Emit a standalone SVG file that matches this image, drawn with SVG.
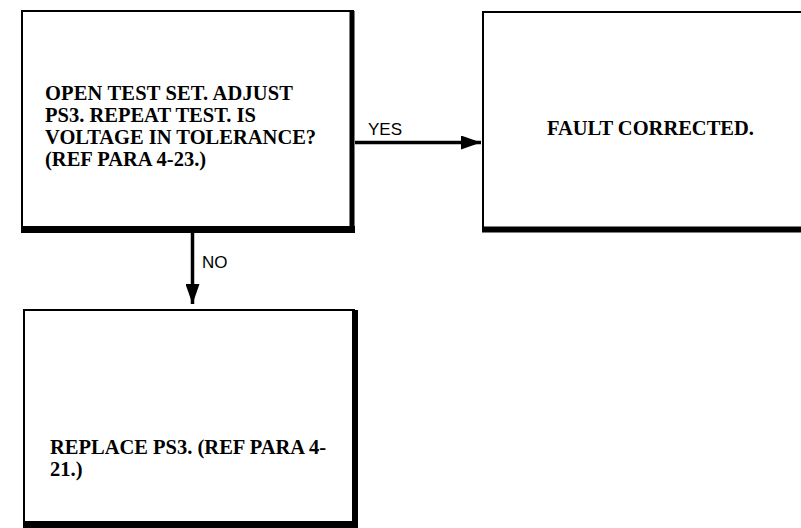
<svg xmlns="http://www.w3.org/2000/svg" width="801" height="528" viewBox="0 0 801 528">
<defs>
<style>
.box{fill:#fff;stroke:#000;stroke-width:2}
.sh{stroke:#000;fill:none}
.t{font-family:"Liberation Serif","Times New Roman",serif;font-weight:bold;font-size:20.5px;fill:#000}
.l{font-family:"Liberation Sans",Arial,sans-serif;font-size:17px;fill:#000}
.c{stroke:#000;stroke-width:3.5;fill:none}
</style>
<marker id="ah" markerWidth="20" markerHeight="14" refX="20" refY="7" orient="auto" markerUnits="userSpaceOnUse">
<path d="M0,0 L20,7 L0,14 Z" fill="#000"/>
</marker>
</defs>
<rect width="801" height="528" fill="#fff"/>
<g id="node-test">
<rect class="box" x="22" y="11" width="331" height="217"/>
<line class="sh" x1="352" y1="11" x2="352" y2="233" stroke-width="5"/>
<line class="sh" x1="21" y1="229.5" x2="355" y2="229.5" stroke-width="7"/>
<text class="t"><tspan x="45" y="100" textLength="248" lengthAdjust="spacing">OPEN TEST SET. ADJUST</tspan><tspan x="45" y="122">PS3. REPEAT TEST. IS</tspan><tspan x="45" y="144">VOLTAGE IN TOLERANCE?</tspan><tspan x="45" y="166">(REF PARA 4-23.)</tspan></text>
</g>
<g id="node-fault">
<rect class="box" x="483" y="12" width="330" height="216"/>
<line class="sh" x1="482" y1="229.5" x2="801" y2="229.5" stroke-width="6"/>
<text class="t" x="547" y="135">FAULT CORRECTED.</text>
</g>
<g id="node-replace">
<rect class="box" x="24" y="310" width="330" height="212"/>
<line class="sh" x1="355" y1="310" x2="355" y2="528" stroke-width="6"/>
<line class="sh" x1="23" y1="524.5" x2="358" y2="524.5" stroke-width="7"/>
<text class="t"><tspan x="50" y="454">REPLACE PS3. (REF PARA 4-</tspan><tspan x="50" y="476">21.)</tspan></text>
</g>
<g id="connectors">
<line class="c" x1="355" y1="142.5" x2="481" y2="142.5" marker-end="url(#ah)"/>
<text class="l" x="368" y="135">YES</text>
<line class="c" x1="192.5" y1="233" x2="192.5" y2="304" marker-end="url(#ah)"/>
<text class="l" x="202" y="268">NO</text>
</g>
</svg>
